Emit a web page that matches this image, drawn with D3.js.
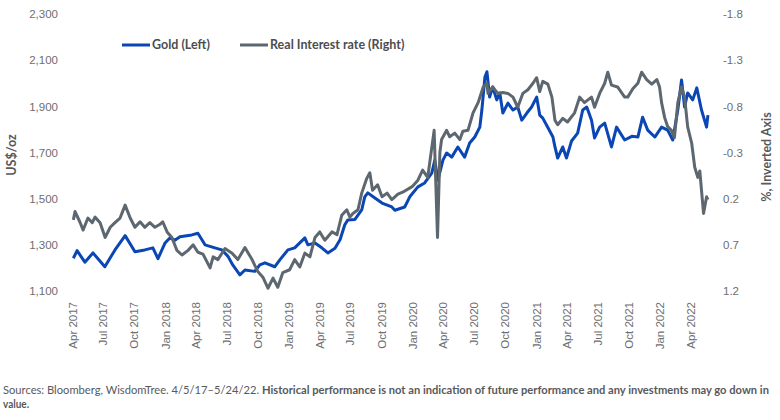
<!DOCTYPE html>
<html>
<head>
<meta charset="utf-8">
<script src="https://cdn.jsdelivr.net/npm/d3@7"></script>
<style>
  body { margin: 0; background: #fff; }
  svg { display: block; font-family: Lato, "Open Sans", sans-serif; }
  .tick-label { fill: #6d6e71; font-size: 11.5px; }
  .axis-title { fill: #58595b; font-size: 12.5px; font-weight: 700; }
  .legend-text { fill: #4d4d4f; font-size: 12.5px; font-weight: 700; }
  .note { fill: #58595b; font-size: 10.5px; }
</style>
</head>
<body>
<div id="chart"></div>
<script>
// Gold vs real interest rate (right axis inverted)
const goldDates = [
  "2017-04-05","2017-04-16","2017-05-09","2017-06-02","2017-07-07","2017-08-06","2017-09-05","2017-10-04",
  "2017-11-02","2017-11-26","2017-12-11","2018-01-01","2018-01-15","2018-01-30","2018-02-14","2018-03-21",
  "2018-04-08","2018-04-29","2018-05-28","2018-06-18","2018-07-06","2018-07-20","2018-08-10","2018-08-25",
  "2018-09-23","2018-10-08","2018-10-23","2018-11-21","2018-12-06","2018-12-30","2019-01-19","2019-02-18",
  "2019-02-27","2019-03-20","2019-04-09","2019-04-27","2019-05-18","2019-06-02","2019-06-16","2019-06-25",
  "2019-07-16","2019-08-05","2019-08-14","2019-08-23","2019-09-13","2019-10-04","2019-11-02","2019-11-11",
  "2019-12-10","2019-12-25","2020-01-18","2020-02-07","2020-02-28","2020-03-08","2020-03-17","2020-04-01",
  "2020-04-12","2020-04-27","2020-05-15","2020-06-04","2020-06-19","2020-07-04","2020-07-19","2020-07-25",
  "2020-08-03","2020-08-09","2020-08-17","2020-08-26","2020-09-07","2020-09-16","2020-09-25","2020-10-10",
  "2020-10-25","2020-11-08","2020-11-20","2020-12-05","2020-12-19","2021-01-03","2021-01-12","2021-01-21",
  "2021-02-05","2021-02-20","2021-02-26","2021-03-06","2021-03-21","2021-04-01","2021-04-16","2021-05-04",
  "2021-05-19","2021-05-31","2021-06-14","2021-06-23","2021-07-08","2021-07-23","2021-08-12","2021-08-27",
  "2021-09-20","2021-10-11","2021-10-29","2021-11-12","2021-11-27","2021-12-18","2022-01-07","2022-01-25",
  "2022-02-09","2022-02-24","2022-03-07","2022-03-16","2022-03-25","2022-04-09","2022-04-21","2022-05-05",
  "2022-05-20","2022-05-24"
];
const goldValues = [
  1242,1275,1225,1265,1205,1278,1340,1270,
  1278,1287,1240,1308,1330,1320,1335,1343,
  1350,1300,1287,1278,1250,1213,1170,1191,
  1185,1213,1222,1205,1235,1278,1287,1330,
  1300,1308,1287,1265,1285,1322,1387,1408,
  1410,1451,1508,1525,1503,1481,1464,1450,
  1464,1508,1551,1568,1611,1667,1580,1667,
  1698,1680,1724,1680,1741,1767,1810,1884,
  2027,2050,1940,1984,1928,1958,1871,1914,
  1884,1897,1840,1871,1897,1940,1862,1849,
  1808,1767,1724,1676,1724,1676,1750,1784,
  1884,1897,1840,1763,1810,1827,1724,1810,
  1754,1770,1767,1853,1797,1767,1810,1797,
  1754,1884,2014,1897,1958,1928,1980,1884,
  1810,1862
];

const rateDates = [
  "2017-04-05","2017-04-10","2017-04-24","2017-05-04","2017-05-18","2017-05-31","2017-06-08","2017-06-23",
  "2017-07-08","2017-07-23","2017-08-06","2017-08-21","2017-09-05","2017-09-20","2017-10-04","2017-10-19",
  "2017-11-02","2017-11-17","2017-12-02","2017-12-16","2017-12-25","2018-01-07","2018-01-21","2018-02-05",
  "2018-02-20","2018-03-10","2018-03-25","2018-04-08","2018-04-23","2018-05-14","2018-05-23","2018-06-06",
  "2018-06-27","2018-07-18","2018-08-04","2018-08-25","2018-09-15","2018-10-02","2018-10-17","2018-11-01",
  "2018-11-16","2018-11-30","2018-12-15","2019-01-04","2019-01-19","2019-02-03","2019-02-18","2019-03-05",
  "2019-03-20","2019-04-03","2019-04-18","2019-05-09","2019-05-24","2019-06-07","2019-06-22","2019-07-01",
  "2019-07-10","2019-07-25","2019-08-05","2019-08-20","2019-08-29","2019-09-06","2019-09-21","2019-10-04",
  "2019-10-19","2019-11-02","2019-11-20","2019-12-04","2020-01-01","2020-01-18","2020-02-01","2020-02-16",
  "2020-03-06","2020-03-16","2020-03-23","2020-03-28","2020-04-12","2020-04-21","2020-05-06","2020-05-21",
  "2020-05-30","2020-06-14","2020-06-29","2020-07-14","2020-07-29","2020-08-09","2020-08-12","2020-08-26",
  "2020-09-10","2020-09-25","2020-10-10","2020-10-25","2020-11-08","2020-11-23","2020-12-08","2020-12-23",
  "2021-01-03","2021-01-12","2021-01-21","2021-02-05","2021-02-17","2021-02-26","2021-03-06","2021-03-21",
  "2021-04-04","2021-04-25","2021-05-10","2021-05-24","2021-06-14","2021-06-23","2021-07-08","2021-07-23",
  "2021-08-01","2021-08-12","2021-08-30","2021-09-20","2021-09-29","2021-10-14","2021-10-29","2021-11-09",
  "2021-11-24","2021-12-09","2021-12-24","2022-01-01","2022-01-07","2022-01-16","2022-01-25","2022-02-05",
  "2022-02-14","2022-02-24","2022-03-07","2022-03-16","2022-03-25","2022-04-06","2022-04-15","2022-04-24",
  "2022-04-30","2022-05-05","2022-05-11","2022-05-20","2022-05-24"
];
const rateValues = [
  0.43,0.34,0.45,0.54,0.41,0.46,0.40,0.46,
  0.62,0.51,0.46,0.41,0.27,0.41,0.51,0.45,
  0.51,0.46,0.51,0.48,0.45,0.56,0.62,0.76,
  0.81,0.76,0.70,0.78,0.80,0.95,0.83,0.86,
  0.74,0.79,0.86,0.73,0.86,0.99,1.05,1.17,
  1.06,1.16,1.00,0.97,0.86,0.94,0.79,0.83,
  0.62,0.56,0.65,0.56,0.59,0.38,0.32,0.40,
  0.36,0.32,0.14,-0.02,-0.08,0.11,0.05,0.18,
  0.14,0.21,0.15,0.13,0.07,0.00,-0.11,-0.03,
  -0.54,0.62,-0.30,-0.44,-0.54,-0.47,-0.51,-0.44,
  -0.53,-0.54,-0.73,-0.84,-1.01,-1.05,-0.94,-1.01,
  -0.94,-0.95,-0.94,-0.90,-0.79,-0.94,-0.98,-1.05,
  -1.11,-0.96,-1.07,-1.04,-0.90,-0.65,-0.60,-0.67,
  -0.63,-0.73,-0.90,-0.84,-0.90,-0.79,-0.94,-1.05,
  -1.17,-1.03,-1.01,-0.90,-0.90,-0.99,-1.05,-1.17,
  -1.09,-1.04,-1.09,-1.01,-0.84,-0.68,-0.58,-0.54,
  -0.46,-0.84,-1.01,-0.90,-0.58,-0.40,-0.14,-0.03,
  -0.10,0.11,0.36,0.18,0.21
];

const goldTicks = [1100, 1300, 1500, 1700, 1900, 2100, 2300];
const rateTicks = [1.2, 0.7, 0.2, -0.3, -0.8, -1.3, -1.8];
const monthTicks = [
  "2017-04","2017-07","2017-10","2018-01","2018-04","2018-07","2018-10",
  "2019-01","2019-04","2019-07","2019-10","2020-01","2020-04","2020-07","2020-10",
  "2021-01","2021-04","2021-07","2021-10","2022-01","2022-04"
];

const seriesNames = ["Gold (Left)", "Real Interest rate (Right)"];
const colors = ["#0a46b4", "#5d6770"];

(function () {
  const W = 780, H = 420;
  const parse = d3.timeParse("%Y-%m-%d");
  const parseMonth = d3.timeParse("%Y-%m");

  const gold = goldDates.map((d, i) => ({ date: parse(d), value: goldValues[i] }));
  const rate = rateDates.map((d, i) => ({ date: parse(d), value: rateValues[i] }));

  const svg = d3.select("#chart").append("svg")
    .attr("width", W).attr("height", H);

  const x = d3.scaleTime()
    .domain([parse("2017-04-01"), parse("2022-04-01")])
    .range([72, 690]);

  const yL = d3.scaleLinear().domain([1100, 2300]).range([291, 14]);
  // right axis is inverted: -1.8 at the top
  const yR = d3.scaleLinear().domain([1.2, -1.8]).range([291, 14]);

  // left axis
  const left = svg.append("g")
    .attr("transform", "translate(58,0)")
    .call(d3.axisLeft(yL).tickValues(goldTicks).tickSize(0).tickPadding(0).tickFormat(d3.format(",")));
  left.select(".domain").remove();
  left.selectAll("text").attr("class", "tick-label");

  // right axis
  const right = svg.append("g")
    .attr("transform", "translate(723,0)")
    .call(d3.axisRight(yR).tickValues(rateTicks).tickSize(0).tickPadding(0).tickFormat(d => d.toFixed(1)));
  right.select(".domain").remove();
  right.selectAll("text").attr("class", "tick-label");

  // bottom axis with rotated labels
  const bottom = svg.append("g")
    .attr("transform", "translate(0,302)")
    .call(d3.axisBottom(x).tickValues(monthTicks.map(parseMonth)).tickSize(0).tickFormat(d3.timeFormat("%b %Y")));
  bottom.select(".domain").remove();
  bottom.selectAll("text")
    .attr("class", "tick-label")
    .attr("transform", "rotate(-90)")
    .attr("text-anchor", "end")
    .attr("x", 0).attr("y", 0).attr("dy", "0.35em");

  // axis titles
  svg.append("text")
    .attr("class", "axis-title")
    .attr("transform", "translate(16,155) rotate(-90)")
    .attr("text-anchor", "middle")
    .text("US$/oz");

  svg.append("text")
    .attr("class", "axis-title")
    .attr("transform", "translate(771,157) rotate(-90)")
    .attr("text-anchor", "middle")
    .text("%, Inverted Axis");

  // lines
  const lineL = d3.line().x(d => x(d.date)).y(d => yL(d.value));
  const lineR = d3.line().x(d => x(d.date)).y(d => yR(d.value));

  svg.append("path")
    .datum(gold)
    .attr("fill", "none")
    .attr("stroke", colors[0])
    .attr("stroke-width", 3)
    .attr("stroke-linejoin", "round")
    .attr("d", lineL);

  svg.append("path")
    .datum(rate)
    .attr("fill", "none")
    .attr("stroke", colors[1])
    .attr("stroke-width", 3)
    .attr("stroke-linejoin", "round")
    .attr("d", lineR);

  // legend
  const legendX = [122, 240];
  seriesNames.forEach((name, i) => {
    const g = svg.append("g").attr("transform", `translate(${legendX[i]},45)`);
    g.append("line")
      .attr("x1", 0).attr("x2", 28)
      .attr("stroke", colors[i]).attr("stroke-width", 3);
    g.append("text")
      .attr("class", "legend-text")
      .attr("x", 30).attr("dy", "0.35em")
      .text(name);
  });

  // footnote
  const note = svg.append("text")
    .attr("class", "note")
    .attr("x", 3).attr("y", 394)
    .attr("textLength", 766)
    .attr("lengthAdjust", "spacingAndGlyphs");
  note.append("tspan").text("Sources: Bloomberg, WisdomTree. 4/5/17\u20135/24/22. ");
  note.append("tspan").attr("font-weight", 700)
    .text("Historical performance is not an indication of future performance and any investments may go down in");

  svg.append("text")
    .attr("class", "note")
    .attr("x", 3).attr("y", 408)
    .attr("font-weight", 700)
    .attr("textLength", 26)
    .attr("lengthAdjust", "spacingAndGlyphs")
    .text("value.");
})();
</script>
</body>
</html>
